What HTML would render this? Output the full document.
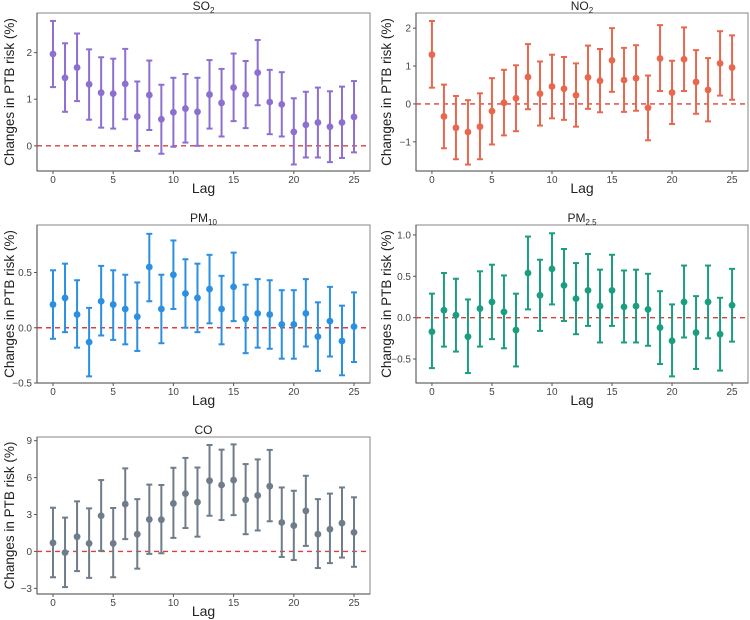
<!DOCTYPE html>
<html><head><meta charset="utf-8"><style>
body{margin:0;background:#fff;}
svg{display:block;font-family:"Liberation Sans",Arial,sans-serif;}
</style></head><body>
<svg id="chart" width="750" height="620" viewBox="0 0 750 620"></svg>
<script>
const lags = [0,1,2,3,4,5,6,7,8,9,10,11,12,13,14,15,16,17,18,19,20,21,22,23,24,25];
const so2Est = [1.97,1.46,1.68,1.32,1.14,1.12,1.33,0.63,1.09,0.57,0.72,0.80,0.73,1.10,0.92,1.25,1.10,1.57,0.94,0.89,0.30,0.45,0.50,0.41,0.50,0.62];
const so2Lo = [1.26,0.73,0.96,0.56,0.39,0.37,0.57,-0.11,0.34,-0.17,-0.02,0.07,0.00,0.37,0.20,0.53,0.38,0.87,0.25,0.20,-0.40,-0.25,-0.25,-0.35,-0.26,-0.14];
const so2Hi = [2.68,2.20,2.41,2.07,1.90,1.87,2.08,1.38,1.83,1.31,1.46,1.54,1.46,1.84,1.65,1.98,1.82,2.27,1.63,1.58,1.02,1.16,1.25,1.17,1.27,1.39];
const no2Est = [1.30,-0.33,-0.63,-0.74,-0.60,-0.19,0.03,0.15,0.71,0.27,0.46,0.40,0.23,0.70,0.61,1.15,0.63,0.68,-0.10,1.20,0.30,1.18,0.58,0.37,1.07,0.96];
const no2Lo = [0.43,-1.17,-1.46,-1.60,-1.46,-1.07,-0.83,-0.72,-0.14,-0.57,-0.38,-0.42,-0.60,-0.13,-0.22,0.32,-0.21,-0.18,-0.96,0.34,-0.53,0.34,-0.26,-0.46,0.22,0.11];
const no2Hi = [2.19,0.51,0.21,0.10,0.28,0.68,0.90,1.02,1.58,1.12,1.30,1.24,1.07,1.54,1.45,2.00,1.48,1.55,0.75,2.08,1.14,2.02,1.42,1.21,1.92,1.81];
const pm10Est = [0.21,0.27,0.12,-0.13,0.24,0.21,0.17,0.10,0.55,0.17,0.48,0.31,0.27,0.35,0.17,0.37,0.08,0.13,0.12,0.03,0.03,0.13,-0.08,0.06,-0.12,0.01];
const pm10Lo = [-0.10,-0.04,-0.18,-0.44,-0.07,-0.11,-0.15,-0.21,0.24,-0.14,0.17,0.00,-0.04,0.04,-0.15,0.06,-0.23,-0.18,-0.19,-0.28,-0.28,-0.17,-0.39,-0.26,-0.43,-0.31];
const pm10Hi = [0.52,0.58,0.43,0.18,0.56,0.52,0.48,0.41,0.85,0.48,0.79,0.62,0.58,0.66,0.47,0.68,0.39,0.44,0.43,0.34,0.34,0.44,0.23,0.37,0.20,0.32];
const pm25Est = [-0.17,0.09,0.03,-0.23,0.11,0.19,0.07,-0.15,0.54,0.27,0.59,0.39,0.23,0.33,0.14,0.33,0.13,0.14,0.10,-0.12,-0.28,0.19,-0.18,0.19,-0.20,0.15];
const pm25Lo = [-0.61,-0.35,-0.41,-0.67,-0.35,-0.26,-0.37,-0.59,0.10,-0.16,0.16,-0.04,-0.20,-0.10,-0.30,-0.10,-0.30,-0.30,-0.34,-0.56,-0.71,-0.24,-0.62,-0.25,-0.64,-0.29];
const pm25Hi = [0.29,0.54,0.47,0.22,0.56,0.64,0.51,0.29,0.98,0.70,1.02,0.83,0.66,0.77,0.58,0.76,0.57,0.58,0.53,0.32,0.16,0.63,0.26,0.63,0.24,0.59];
const coEst = [0.7,-0.1,1.2,0.65,2.9,0.65,3.85,1.4,2.6,2.58,3.9,4.7,4.0,5.75,5.4,5.8,4.2,4.55,5.3,2.35,2.1,3.3,1.4,1.8,2.3,1.55];
const coLo = [-2.1,-2.9,-1.6,-2.15,0.05,-2.1,1.0,-1.4,-0.2,-0.15,1.1,1.9,1.2,2.9,2.55,2.95,1.4,1.7,2.45,-0.45,-0.7,0.45,-1.35,-0.95,-0.5,-1.25];
const coHi = [3.55,2.75,4.07,3.5,5.8,3.53,6.75,4.25,5.43,5.4,6.8,7.6,6.82,8.65,8.27,8.7,7.1,7.48,8.25,5.2,4.93,6.15,4.25,4.7,5.2,4.4];
const xTicks = [0,5,10,15,20,25];
const so2Ticks = [0,1,2];
const no2Ticks = [-1,0,1,2];
const pm10Ticks = [-0.5,0.0,0.5];
const pm25Ticks = [-0.5,0.0,0.5,1.0];
const coTicks = [-3,0,3,6,9];

const NS='http://www.w3.org/2000/svg';
const svg=document.getElementById('chart');
function el(tag,attrs,parent){const e=document.createElementNS(NS,tag);for(const k in attrs)e.setAttribute(k,attrs[k]);(parent||svg).appendChild(e);return e;}

const panels=[
 {key:'so2',title:'SO',sub:'2',est:so2Est,lo:so2Lo,hi:so2Hi,ticks:so2Ticks,dec:0,color:'#8d6fd1',x0:37,x1:370,y0:13,y1:171,ymin:-0.54,ymax:2.85,tx:10},
 {key:'no2',title:'NO',sub:'2',est:no2Est,lo:no2Lo,hi:no2Hi,ticks:no2Ticks,dec:0,color:'#e8684f',x0:416,x1:748,y0:13,y1:171,ymin:-1.77,ymax:2.40,tx:387},
 {key:'pm10',title:'PM',sub:'10',est:pm10Est,lo:pm10Lo,hi:pm10Hi,ticks:pm10Ticks,dec:1,color:'#2b8fe2',x0:37,x1:370,y0:225,y1:383,ymin:-0.50,ymax:0.93,tx:10},
 {key:'pm25',title:'PM',sub:'2.5',est:pm25Est,lo:pm25Lo,hi:pm25Hi,ticks:pm25Ticks,dec:1,color:'#1b9e80',x0:416,x1:748,y0:225,y1:383,ymin:-0.79,ymax:1.12,tx:387},
 {key:'co',title:'CO',sub:'',est:coEst,lo:coLo,hi:coHi,ticks:coTicks,dec:0,color:'#6f7c8a',x0:37,x1:370,y0:437,y1:594,ymin:-3.46,ymax:9.3,tx:10}
];

panels.forEach(p=>{
 const g=el('g',{});
 
 
 const pad=(p.x1-p.x0)*0.048;
 const xs=v=>p.x0+pad+v*((p.x1-p.x0-2*pad)/25);
 const ys=v=>p.y1-(v-p.ymin)/(p.ymax-p.ymin)*(p.y1-p.y0);
 const box=el('rect',{x:p.x0,y:p.y0,width:p.x1-p.x0,height:p.y1-p.y0,fill:'#fff',stroke:'#9a9a9a','stroke-width':1.2},g);
 
 
 el('line',{x1:p.x0,x2:p.x0,y1:p.y0,y2:p.y1,stroke:'#555','stroke-width':1},g);
 el('line',{x1:p.x0,x2:p.x1,y1:p.y1,y2:p.y1,stroke:'#555','stroke-width':1},g);
 const ref=el('line',{x1:p.x0,x2:p.x1,y1:ys(0),y2:ys(0),stroke:'#d9403a','stroke-width':1.4,'stroke-dasharray':'5,4'},g);
 
 
 p.ticks.forEach(t=>{
  const y=ys(t);
  el('line',{x1:p.x0-3,x2:p.x0,y1:y,y2:y,stroke:'#555'},g);
  const tl=el('text',{x:p.x0-5,y:y+3.5,'text-anchor':'end','font-size':10,fill:'#444'},g);
  tl.textContent=(t<0?'\u2212':'')+Math.abs(t).toFixed(p.dec);
  
  
 });
 xTicks.forEach(t=>{
  const x=xs(t);
  el('line',{x1:x,x2:x,y1:p.y1,y2:p.y1+3,stroke:'#555'},g);
  const tl=el('text',{x:x,y:p.y1+12,'text-anchor':'middle','font-size':10,fill:'#444'},g);
  tl.textContent=t;
  
  
 });
 lags.forEach((l,i)=>{
  const x=xs(l);
  const eb=el('g',{stroke:p.color,'stroke-width':2},g);
  
  
  el('line',{x1:x,x2:x,y1:ys(p.lo[i]),y2:ys(p.hi[i])},eb);
  el('line',{x1:x-3,x2:x+3,y1:ys(p.lo[i]),y2:ys(p.lo[i])},eb);
  el('line',{x1:x-3,x2:x+3,y1:ys(p.hi[i]),y2:ys(p.hi[i])},eb);
  const c=el('circle',{cx:x,cy:ys(p.est[i]),r:3.4,fill:p.color},g);
  
  
 });
 const cx=(p.x0+p.x1)/2;
 const title=el('text',{x:cx,y:p.y0-3,'text-anchor':'middle','font-size':12,fill:'#222'},g);
 
 
 title.textContent=p.title;
 if(p.sub){const ts=el('tspan',{'font-size':8,dy:3},title);ts.textContent=p.sub;}
 const xl=el('text',{x:cx,y:p.y1+22,'text-anchor':'middle','font-size':14,fill:'#222'},g);
 xl.textContent='Lag';
 
 
 const ym=(p.y0+p.y1)/2;
 const yl=el('text',{x:p.tx+4,y:ym,'text-anchor':'middle','font-size':13.5,fill:'#222',transform:'rotate(-90 '+(p.tx+4)+' '+ym+')'},g);
 yl.textContent='Changes in PTB risk (%)';
 
 
});
</script>
</body></html>
